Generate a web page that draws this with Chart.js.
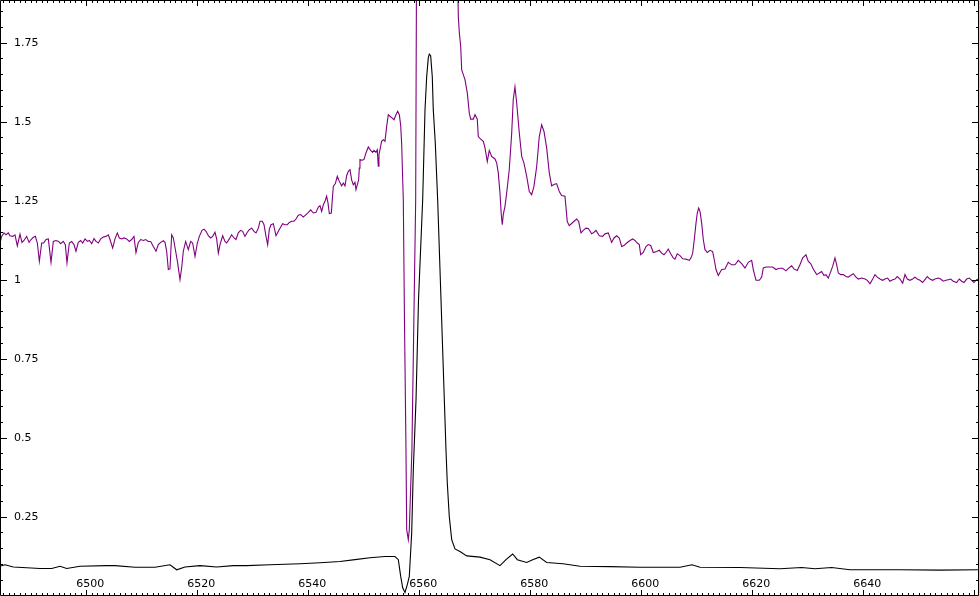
<!DOCTYPE html>
<html>
<head>
<meta charset="utf-8">
<script src="https://cdn.jsdelivr.net/npm/chart.js@4/dist/chart.umd.min.js"></script>
<style>
  html, body { margin: 0; padding: 0; background: #fff; }
  #wrap { width: 979px; height: 596px; }
</style>
</head>
<body>
<div id="wrap"><canvas id="spectrum" width="979" height="596"></canvas></div>
<script>
// ─── AXES ─────────────────────────────────────────────────────
const xRange = [6484.45, 6660.85];
const yRange = [-0.001, 1.885];
const xTickValues = [6500, 6520, 6540, 6560, 6580, 6600, 6620, 6640];
const yTickValues = [0.25, 0.5, 0.75, 1, 1.25, 1.5, 1.75];
const xMinorStep = 1;
const xMajorStep = 20;
const yMinorStep = 0.05;
const yMajorStep = 0.25;

// ─── BLACK SPECTRUM ───────────────────────────────────────────
const blackWave = [
  6484.45, 6485.35, 6486.85, 6491.66, 6493.77, 6495.26, 6496.47, 6498.86, 6503.67, 6505.17,
  6508.77, 6512.38, 6515.08, 6516.29, 6517.78, 6520.49, 6523.49, 6526.49, 6528.90, 6533.10,
  6538.50, 6542.11, 6545.71, 6548.41, 6551.12, 6553.82, 6555.62, 6556.22, 6556.65, 6557.01,
  6557.42, 6557.84, 6558.20, 6558.63, 6558.92, 6559.41, 6559.86, 6560.61, 6561.03, 6561.33,
  6561.62, 6561.80, 6562.05, 6562.34, 6562.52, 6562.88, 6563.31, 6563.91, 6564.81, 6565.04,
  6565.40, 6565.84, 6566.43, 6567.33, 6568.54, 6570.94, 6572.74, 6574.54, 6575.62, 6576.83,
  6577.66, 6579.35, 6580.43, 6581.62, 6582.95, 6585.89, 6588.95, 6594.36, 6599.76, 6606.97,
  6609.14, 6610.58, 6617.78, 6624.99, 6628.90, 6631.29, 6634.30, 6637.60, 6646.61, 6653.82,
  6660.66
];
const blackFlux = [
  0.093, 0.098, 0.091, 0.086, 0.086, 0.093, 0.086, 0.093, 0.095, 0.095,
  0.090, 0.090, 0.098, 0.082, 0.091, 0.095, 0.091, 0.095, 0.095, 0.098,
  0.101, 0.104, 0.108, 0.114, 0.120, 0.124, 0.124, 0.114, 0.061, 0.025,
  0.010, 0.035, 0.061, 0.199, 0.399, 0.620, 0.937, 1.253, 1.538, 1.642,
  1.702, 1.714, 1.709, 1.642, 1.538, 1.433, 1.253, 0.937, 0.462, 0.358,
  0.251, 0.177, 0.148, 0.140, 0.126, 0.122, 0.114, 0.095, 0.114, 0.132,
  0.114, 0.105, 0.114, 0.122, 0.105, 0.101, 0.093, 0.092, 0.090, 0.090,
  0.098, 0.090, 0.089, 0.085, 0.089, 0.085, 0.089, 0.082, 0.082, 0.081,
  0.082
];

// ─── PURPLE SPECTRUM ──────────────────────────────────────────
const purpleWave = [
  6484.45, 6484.75, 6485.17, 6485.53, 6485.95, 6486.25, 6486.73, 6487.15, 6487.57, 6488.05,
  6488.41, 6488.77, 6489.25, 6489.68, 6490.04, 6490.46, 6490.82, 6491.18, 6491.54, 6491.96,
  6492.32, 6492.74, 6493.16, 6493.64, 6494.06, 6494.54, 6495.02, 6495.38, 6495.86, 6496.22,
  6496.52, 6496.94, 6497.36, 6497.78, 6498.14, 6498.56, 6498.98, 6499.34, 6499.77, 6500.19,
  6500.55, 6500.97, 6501.39, 6501.75, 6502.17, 6502.59, 6503.07, 6503.55, 6503.97, 6504.27,
  6504.75, 6505.17, 6505.59, 6505.95, 6506.37, 6506.79, 6507.27, 6507.75, 6508.17, 6508.59,
  6508.95, 6509.37, 6509.80, 6510.28, 6510.70, 6511.18, 6511.60, 6512.08, 6512.56, 6512.98,
  6513.40, 6513.88, 6514.18, 6514.48, 6514.78, 6515.08, 6515.38, 6515.68, 6516.10, 6516.46,
  6516.88, 6517.18, 6517.48, 6517.90, 6518.38, 6518.80, 6519.16, 6519.59, 6520.01, 6520.37,
  6520.85, 6521.21, 6521.57, 6521.99, 6522.41, 6522.77, 6523.19, 6523.49, 6523.79, 6524.09,
  6524.57, 6524.99, 6525.29, 6525.77, 6526.19, 6526.61, 6526.97, 6527.39, 6527.81, 6528.17,
  6528.59, 6529.01, 6529.37, 6529.80, 6530.22, 6530.58, 6531.00, 6531.30, 6531.72, 6532.02,
  6532.38, 6532.68, 6532.98, 6533.28, 6533.70, 6534.18, 6534.60, 6534.90, 6535.38, 6535.80,
  6536.22, 6536.58, 6537.00, 6537.42, 6537.78, 6538.20, 6538.62, 6539.10, 6539.59, 6540.01,
  6540.43, 6540.91, 6541.39, 6541.81, 6542.11, 6542.41, 6542.71, 6543.01,
  6543.30, 6543.55, 6543.79, 6544.15, 6544.33, 6544.51, 6544.87, 6545.23, 6545.59, 6546.01,
  6546.31, 6546.61, 6546.91, 6547.21, 6547.51, 6547.81, 6548.11, 6548.41, 6548.59, 6548.83,
  6549.07, 6549.19, 6549.31, 6549.67, 6550.03, 6550.39, 6550.81, 6551.23, 6551.59, 6551.83,
  6552.19, 6552.43, 6552.61, 6552.73, 6552.91, 6553.21, 6553.52, 6553.82, 6554.12, 6554.42,
  6554.72, 6555.08, 6555.44, 6555.80, 6556.10, 6556.40,
  6556.64, 6556.83, 6557.01, 6557.12, 6557.33, 6557.60, 6557.73, 6558.02, 6558.20, 6558.67,
  6559.35, 6560.12, 6561.57, 6562.83, 6564.27, 6565.53,
  6567.03, 6567.21, 6567.46, 6567.64, 6567.93, 6568.23, 6568.65, 6569.01, 6569.26, 6569.73,
  6570.04, 6570.45, 6570.63, 6571.06, 6571.53, 6571.84, 6572.25, 6572.61, 6573.04, 6573.64,
  6573.95, 6574.23, 6574.54, 6574.77, 6574.95, 6575.13, 6575.44, 6575.74, 6576.21, 6576.65,
  6576.93, 6577.24, 6577.55, 6578.02, 6578.45, 6578.86, 6579.35, 6579.82, 6580.25, 6580.66,
  6581.15, 6581.62, 6582.05, 6582.47, 6582.95, 6583.42, 6583.85, 6584.27, 6584.75, 6585.22,
  6585.65, 6586.25, 6586.66, 6587.02, 6587.64, 6588.36, 6588.72, 6589.13, 6589.55, 6590.04,
  6590.45, 6591.06, 6591.48, 6591.84, 6592.43, 6593.04, 6593.46, 6594.05, 6594.66, 6595.08,
  6595.56, 6596.03, 6596.46, 6596.88, 6597.37, 6597.96, 6598.45, 6598.86, 6599.28, 6599.64,
  6599.89, 6600.36, 6600.85, 6601.26, 6601.69, 6602.16, 6602.77, 6603.24, 6603.67, 6604.09,
  6604.45, 6604.86, 6605.29, 6605.76, 6606.07, 6606.48, 6606.97, 6607.46, 6608.05, 6608.65,
  6608.96, 6609.26, 6609.55, 6609.86, 6610.09, 6610.34, 6610.58, 6610.88, 6611.17, 6611.48,
  6611.89, 6612.38, 6612.86, 6613.15, 6613.46, 6613.87, 6614.48, 6615.08, 6615.67, 6616.29,
  6616.88, 6617.48, 6618.09, 6618.68, 6619.28, 6619.89, 6620.18, 6620.67, 6621.26, 6621.69,
  6621.98, 6622.47, 6623.06, 6623.67, 6624.27, 6624.86, 6625.47, 6626.07, 6626.66, 6627.09,
  6627.51, 6628.10, 6628.59, 6629.08, 6629.67, 6630.09, 6630.52, 6630.99, 6631.60, 6632.07,
  6632.50, 6632.92, 6633.28, 6633.69, 6634.00, 6634.48, 6634.90, 6635.21, 6635.50, 6635.93,
  6636.40, 6636.89, 6637.30, 6637.73, 6638.20, 6638.69, 6639.10, 6639.71, 6640.31, 6640.72,
  6641.21, 6641.70, 6642.11, 6642.52, 6643.01, 6643.49, 6643.91, 6644.39, 6644.81, 6645.29,
  6645.71, 6646.12, 6646.61, 6647.10, 6647.51, 6647.93, 6648.41, 6648.90, 6649.31, 6649.72,
  6650.21, 6650.70, 6651.11, 6651.53, 6652.01, 6652.50, 6652.91, 6653.51, 6653.94, 6654.41,
  6654.90, 6655.31, 6655.74, 6656.21, 6656.82, 6657.29, 6657.72, 6658.14, 6658.63, 6659.10,
  6659.53, 6659.94, 6660.43, 6660.72
];
const purpleFlux = [
  1.116, 1.137, 1.148, 1.142, 1.148, 1.139, 1.137, 1.142, 1.107, 1.144,
  1.118, 1.124, 1.137, 1.118, 1.127, 1.134, 1.137, 1.116, 1.058, 1.116,
  1.116, 1.127, 1.129, 1.055, 1.121, 1.124, 1.121, 1.114, 1.121, 1.111,
  1.053, 1.116, 1.121, 1.111, 1.090, 1.118, 1.124, 1.116, 1.129, 1.121,
  1.124, 1.114, 1.130, 1.121, 1.116, 1.129, 1.135, 1.137, 1.142, 1.127,
  1.100, 1.129, 1.148, 1.132, 1.129, 1.132, 1.129, 1.121, 1.127, 1.137,
  1.086, 1.118, 1.127, 1.124, 1.127, 1.121, 1.121, 1.105, 1.090, 1.111,
  1.118, 1.123, 1.118, 1.090, 1.032, 1.034, 1.142, 1.132, 1.090, 1.053,
  1.000, 1.037, 1.090, 1.121, 1.095, 1.121, 1.116, 1.074, 1.116, 1.137,
  1.156, 1.160, 1.153, 1.139, 1.132, 1.137, 1.150, 1.129, 1.084, 1.111,
  1.139, 1.121, 1.116, 1.129, 1.142, 1.132, 1.127, 1.148, 1.156, 1.153,
  1.137, 1.150, 1.158, 1.163, 1.153, 1.148, 1.163, 1.185, 1.185, 1.174,
  1.137, 1.111, 1.160, 1.174, 1.177, 1.139, 1.153, 1.163, 1.177, 1.174,
  1.174, 1.181, 1.185, 1.185, 1.192, 1.204, 1.206, 1.198, 1.206, 1.213,
  1.221, 1.211, 1.213, 1.230, 1.234, 1.216, 1.237, 1.248,
  1.264, 1.243, 1.209, 1.211, 1.255, 1.295, 1.304, 1.327, 1.311, 1.297,
  1.306, 1.297, 1.329, 1.343, 1.348, 1.316, 1.300, 1.308, 1.285, 1.300,
  1.316, 1.353, 1.380, 1.378, 1.380, 1.401, 1.420, 1.409, 1.403, 1.409,
  1.403, 1.411, 1.359, 1.395, 1.411, 1.438, 1.443, 1.438, 1.485, 1.522,
  1.517, 1.512, 1.506, 1.522, 1.533, 1.522,
  1.490, 1.427, 1.316, 1.253, 0.873, 0.462, 0.209, 0.177, 0.209, 0.462,
  1.253, 5.0, 11.0, 10.0, 6.0, 3.5,
  1.833, 1.782, 1.738, 1.664, 1.649, 1.633, 1.591, 1.527, 1.508, 1.508,
  1.522, 1.508, 1.453, 1.445, 1.438, 1.417, 1.374, 1.409, 1.390, 1.382,
  1.369, 1.338, 1.274, 1.206, 1.174, 1.206, 1.232, 1.274, 1.348, 1.464,
  1.570, 1.610, 1.559, 1.464, 1.390, 1.369, 1.327, 1.279, 1.269, 1.295,
  1.358, 1.453, 1.490, 1.469, 1.417, 1.338, 1.297, 1.301, 1.304, 1.279,
  1.266, 1.264, 1.184, 1.171, 1.181, 1.192, 1.184, 1.148, 1.156, 1.163,
  1.162, 1.145, 1.150, 1.156, 1.139, 1.137, 1.145, 1.148, 1.118, 1.132,
  1.139, 1.132, 1.105, 1.108, 1.116, 1.124, 1.129, 1.124, 1.116, 1.111,
  1.079, 1.086, 1.105, 1.111, 1.108, 1.086, 1.089, 1.093, 1.084, 1.079,
  1.086, 1.097, 1.082, 1.069, 1.065, 1.082, 1.076, 1.066, 1.065, 1.061,
  1.069, 1.084, 1.127, 1.179, 1.211, 1.227, 1.216, 1.179, 1.127, 1.095,
  1.086, 1.093, 1.089, 1.063, 1.032, 1.013, 1.032, 1.034, 1.055, 1.047,
  1.047, 1.061, 1.051, 1.037, 1.055, 1.061, 1.032, 0.998, 0.998, 1.008,
  1.037, 1.040, 1.040, 1.040, 1.032, 1.036, 1.036, 1.028, 1.038, 1.044,
  1.034, 1.029, 1.047, 1.069, 1.079, 1.058, 1.051, 1.034, 1.016, 1.021,
  1.026, 1.013, 1.016, 1.005, 1.019, 1.042, 1.069, 1.047, 1.021, 1.016,
  1.016, 1.010, 1.008, 1.013, 1.019, 1.008, 1.002, 1.005, 1.002, 0.998,
  0.987, 1.002, 1.016, 1.008, 1.002, 0.998, 1.002, 1.005, 0.995, 1.000,
  1.002, 1.010, 1.002, 0.989, 1.016, 1.002, 0.998, 1.002, 1.008, 1.002,
  0.998, 0.991, 1.000, 1.010, 1.002, 0.998, 1.002, 1.005, 1.002, 0.995,
  0.998, 1.000, 1.002, 0.995, 0.991, 1.002, 0.995, 0.991, 1.002, 1.005,
  0.998, 0.991, 1.000, 1.002
];

const labelFont = { family: "DejaVu Sans", size: 11 };

function toPoints(wave, flux) {
  return wave.map((x, i) => ({ x, y: flux[i] }));
}

// axes take no room: labels sit inside the plot
function flatten(scale) {
  if (scale.isHorizontal()) scale.height = 0;
  else scale.width = 0;
  scale.paddingTop = 0;
  scale.paddingBottom = 0;
  scale.paddingLeft = 0;
  scale.paddingRight = 0;
}

// ─── FRAME + INWARD TICK MARKS ────────────────────────────────
const frameTicks = {
  id: "frameTicks",
  afterDatasetsDraw(chart) {
    const { ctx, chartArea: a, scales } = chart;
    const xs = scales.x;
    const ys = scales.y;
    ctx.save();
    ctx.strokeStyle = "#000";
    ctx.lineWidth = 1;
    ctx.beginPath();
    ctx.rect(a.left + 0.5, a.top + 0.5, a.right - a.left - 1, a.bottom - a.top - 1);

    const xRatio = Math.round(xMajorStep / xMinorStep);
    for (let k = Math.ceil(xs.min / xMinorStep); k * xMinorStep <= xs.max; k++) {
      const px = Math.round(xs.getPixelForValue(k * xMinorStep)) + 0.5;
      const len = k % xRatio === 0 ? 6 : 3;
      ctx.moveTo(px, a.bottom);
      ctx.lineTo(px, a.bottom - len);
      ctx.moveTo(px, a.top);
      ctx.lineTo(px, a.top + len);
    }

    const yRatio = Math.round(yMajorStep / yMinorStep);
    for (let k = Math.ceil(ys.min / yMinorStep); k * yMinorStep <= ys.max; k++) {
      const py = Math.round(ys.getPixelForValue(k * yMinorStep)) + 0.5;
      const len = k % yRatio === 0 ? 7 : 3;
      ctx.moveTo(a.left, py);
      ctx.lineTo(a.left + len, py);
      ctx.moveTo(a.right, py);
      ctx.lineTo(a.right - len, py);
    }
    ctx.stroke();
    ctx.restore();
  },
};

new Chart(document.getElementById("spectrum"), {
  type: "line",
  data: {
    datasets: [
      {
        label: "purple",
        data: toPoints(purpleWave, purpleFlux),
        borderColor: "#800080",
        borderWidth: 1.1,
        pointRadius: 0,
        tension: 0,
      },
      {
        label: "black",
        data: toPoints(blackWave, blackFlux),
        borderColor: "#000000",
        borderWidth: 1.1,
        pointRadius: 0,
        tension: 0,
      },
    ],
  },
  options: {
    responsive: false,
    animation: false,
    devicePixelRatio: 1,
    layout: { padding: 0 },
    plugins: { legend: { display: false }, tooltip: { enabled: false } },
    scales: {
      x: {
        type: "linear",
        min: xRange[0],
        max: xRange[1],
        bounds: "data",
        grid: { display: false },
        border: { display: false },
        afterBuildTicks: (s) => { s.ticks = xTickValues.map((value) => ({ value })); },
        afterFit: flatten,
        ticks: {
          mirror: true,
          padding: 5,
          labelOffset: 4,
          maxRotation: 0,
          autoSkip: false,
          color: "#000",
          font: labelFont,
          callback: (v) => String(v),
        },
      },
      y: {
        type: "linear",
        min: yRange[0],
        max: yRange[1],
        bounds: "data",
        grid: { display: false },
        border: { display: false },
        afterBuildTicks: (s) => { s.ticks = yTickValues.map((value) => ({ value })); },
        afterFit: flatten,
        ticks: {
          mirror: true,
          padding: 14,
          autoSkip: false,
          color: "#000",
          font: labelFont,
          callback: (v) => String(v),
        },
      },
    },
  },
  plugins: [frameTicks],
});
</script>
</body>
</html>
